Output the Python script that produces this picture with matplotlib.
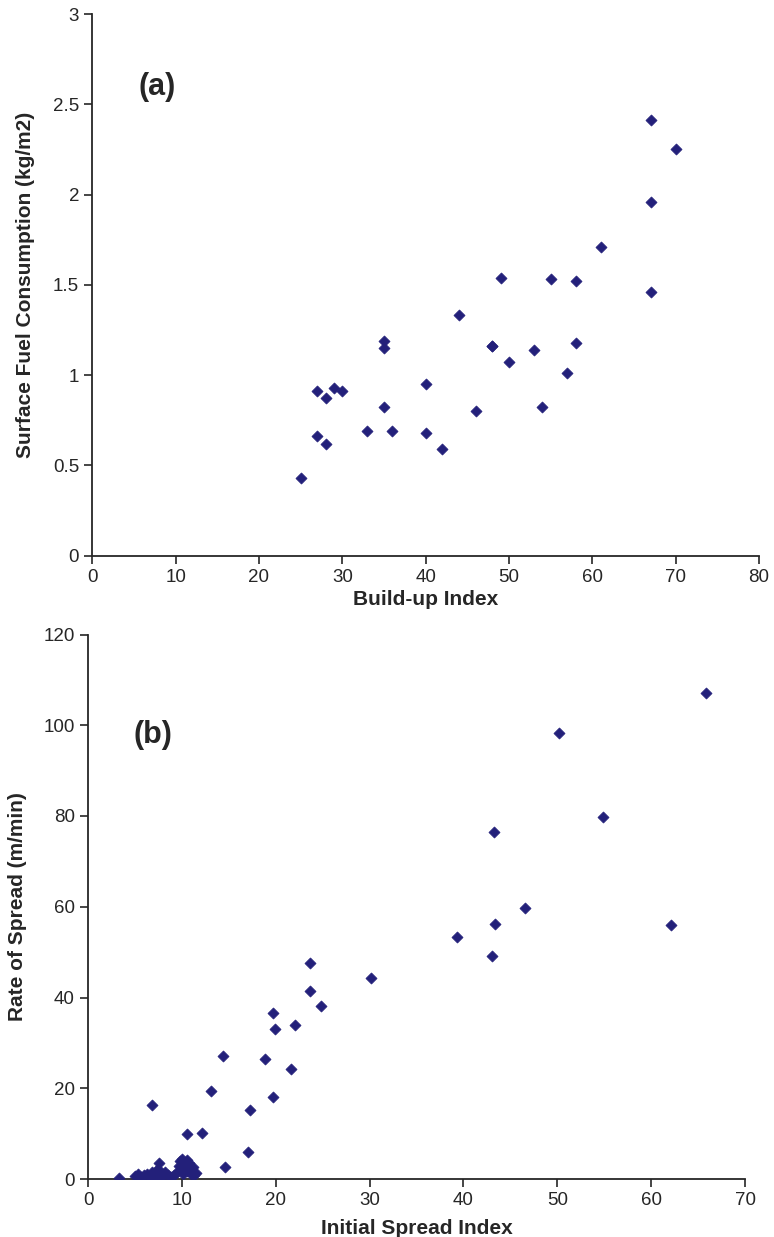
import matplotlib
matplotlib.use("Agg")
import matplotlib.pyplot as plt
import matplotlib.font_manager as fm

# ---- Panel (a): Build-up Index vs Surface Fuel Consumption ----
bui = [25, 27, 28, 27, 28, 29, 30, 33, 35, 35, 35, 36, 40, 40, 42, 44,
       46, 48, 48, 49, 50, 53, 54, 55, 57, 58, 58, 61, 67, 67, 67, 70]
sfc = [0.43, 0.66, 0.62, 0.91, 0.87, 0.93, 0.91, 0.69, 0.82, 1.19, 1.15, 0.69, 0.95, 0.68, 0.59, 1.33,
       0.80, 1.16, 1.16, 1.54, 1.07, 1.14, 0.82, 1.53, 1.01, 1.18, 1.52, 1.71, 2.41, 1.96, 1.46, 2.25]
a_xticks = [0, 10, 20, 30, 40, 50, 60, 70, 80]
a_yticks = [0, 0.5, 1, 1.5, 2, 2.5, 3]
a_yticklabels = ["0", "0.5", "1", "1.5", "2", "2.5", "3"]

# ---- Panel (b): Initial Spread Index vs Rate of Spread ----
isi = [65.8, 50.2, 54.9, 43.3, 46.6, 43.4, 62.1, 39.3, 43.0, 30.1, 23.6, 23.6, 24.8,
       19.7, 19.9, 22.1, 14.4, 18.9, 21.6, 13.1, 19.7, 17.3, 6.8, 10.6, 12.1, 17.0, 14.6,
       3.3, 5.0, 5.3, 5.6, 6.0, 6.3, 6.6, 6.8, 7.0, 7.2, 7.3, 7.5, 7.6, 7.8, 8.0, 8.2,
       8.5, 8.8, 9.2, 9.5, 9.7, 9.8, 10.0, 10.2, 10.4, 10.5, 10.6, 10.8, 11.0, 11.2,
       11.3, 11.5, 10.1, 9.9]
ros = [107.0, 98.4, 79.7, 76.4, 59.7, 56.2, 55.9, 53.3, 49.2, 44.4, 47.7, 41.5, 38.1,
       36.5, 33.0, 33.9, 27.1, 26.5, 24.3, 19.5, 18.1, 15.2, 16.2, 10.0, 10.1, 6.0, 2.6,
       0.3, 0.6, 1.0, 0.4, 0.8, 1.2, 0.5, 1.5, 0.9, 1.8, 0.3, 2.2, 3.5, 1.2, 0.6, 1.6,
       0.9, 0.4, 0.8, 1.5, 2.8, 3.9, 4.4, 3.2, 2.5, 4.2, 1.8, 3.6, 1.2, 2.6,
       0.9, 1.4, 1.0, 2.0]
b_xticks = [0, 10, 20, 30, 40, 50, 60, 70]
b_yticks = [0, 20, 40, 60, 80, 100, 120]

_names = {f.name for f in fm.fontManager.ttflist}
_narrow = "Liberation Sans Narrow" if "Liberation Sans Narrow" in _names else "Liberation Sans"
FAM = [_narrow, "Liberation Sans", "DejaVu Sans"]
plt.rcParams["font.family"] = FAM
MC = "#23207a"
TC = "#262626"

fig = plt.figure(figsize=(7.74, 12.37), dpi=100)
W, H = 774, 1237

def make_axes(left, right, top, bottom):
    return fig.add_axes([left / W, 1 - bottom / H, (right - left) / W, (bottom - top) / H])

def style(ax):
    for s in ("top", "right"):
        ax.spines[s].set_visible(False)
    for s in ("left", "bottom"):
        ax.spines[s].set_linewidth(1.3)
        ax.spines[s].set_color(TC)
    ax.tick_params(axis="both", direction="out", length=6, width=1.2,
                   labelsize=13.5, colors=TC)
    for lab in ax.get_xticklabels() + ax.get_yticklabels():
        lab.set_color(TC)

# Panel (a)
ax1 = make_axes(92.3, 759, 14, 555.5)
ax1.scatter(bui, sfc, marker="D", s=32, color=MC, edgecolors=MC, linewidths=0.5, zorder=3)
ax1.set_xlim(0, 80)
ax1.set_ylim(0, 3)
ax1.set_xticks(a_xticks)
ax1.set_yticks(a_yticks)
ax1.set_yticklabels(a_yticklabels)
style(ax1)
ax1.set_xlabel("Build-up Index", fontsize=15, fontweight="bold", color=TC, labelpad=3)
ax1.set_ylabel("Surface Fuel Consumption (kg/m2)", fontsize=15, fontweight="bold",
               color=TC, labelpad=13)
ax1.text(0.07, 0.85, "(a)", transform=ax1.transAxes, fontsize=22, fontweight="bold",
         family=["Liberation Sans", "DejaVu Sans"], color=TC)

# Panel (b)
ax2 = make_axes(88, 745, 634.5, 1179)
ax2.scatter(isi, ros, marker="D", s=32, color=MC, edgecolors=MC, linewidths=0.5, zorder=3)
ax2.set_xlim(0, 70)
ax2.set_ylim(0, 120)
ax2.set_xticks(b_xticks)
ax2.set_yticks(b_yticks)
style(ax2)
ax2.set_xlabel("Initial Spread Index", fontsize=15, fontweight="bold", color=TC, labelpad=7)
ax2.set_ylabel("Rate of Spread (m/min)", fontsize=15, fontweight="bold",
               color=TC, labelpad=12)
ax2.text(0.07, 0.80, "(b)", transform=ax2.transAxes, fontsize=22, fontweight="bold",
         family=["Liberation Sans", "DejaVu Sans"], color=TC)

fig.savefig("out.png", dpi=100)
